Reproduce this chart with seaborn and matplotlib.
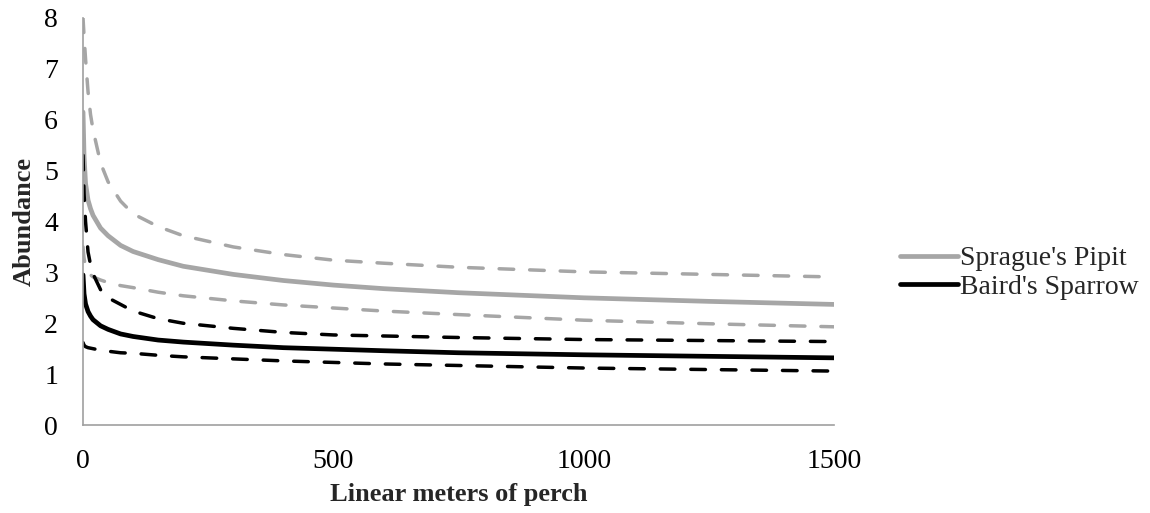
import matplotlib
matplotlib.use("Agg")
import matplotlib.pyplot as plt
import seaborn as sns
import pandas as pd

# Data
meters = [0, 2, 5, 10, 15, 20, 35, 50, 75, 100, 150, 200, 300, 400, 500, 600, 750, 1000, 1250, 1500]
pipit_mean  = [6.15, 5.30, 4.75, 4.42, 4.25, 4.12, 3.87, 3.72, 3.53, 3.41, 3.25, 3.12, 2.96, 2.84, 2.75, 2.68, 2.60, 2.50, 2.43, 2.37]
pipit_upper = [8.00, 7.65, 7.20, 6.55, 6.10, 5.80, 5.15, 4.78, 4.40, 4.15, 3.90, 3.72, 3.50, 3.35, 3.24, 3.18, 3.10, 3.01, 2.96, 2.91]
pipit_lower = [3.50, 3.28, 3.12, 3.00, 2.95, 2.91, 2.85, 2.80, 2.74, 2.70, 2.61, 2.54, 2.44, 2.36, 2.30, 2.24, 2.17, 2.06, 1.99, 1.93]
sparrow_mean  = [2.95, 2.58, 2.38, 2.23, 2.14, 2.07, 1.95, 1.88, 1.79, 1.74, 1.67, 1.63, 1.57, 1.52, 1.49, 1.46, 1.42, 1.38, 1.35, 1.32]
sparrow_upper = [5.30, 4.55, 4.00, 3.40, 3.15, 2.97, 2.66, 2.50, 2.37, 2.24, 2.09, 2.00, 1.90, 1.82, 1.77, 1.75, 1.72, 1.68, 1.66, 1.64]
sparrow_lower = [1.62, 1.57, 1.54, 1.52, 1.51, 1.50, 1.47, 1.45, 1.42, 1.41, 1.37, 1.34, 1.30, 1.26, 1.23, 1.20, 1.17, 1.12, 1.09, 1.06]

x_ticks = [0, 500, 1000, 1500]
y_ticks = [0, 1, 2, 3, 4, 5, 6, 7, 8]

sns.set_theme(style="white")
plt.rcParams['font.family'] = ['Liberation Serif', 'DejaVu Serif']

fig = plt.figure(figsize=(11.5, 5.13), dpi=100)
ax = fig.add_axes([0.0722, 0.1715, 0.6533, 0.7935])

GRAY = "#A6A6A6"
BLACK = "#000000"
dash = (4.2, 4.6)

series = [
    (pipit_upper, GRAY, True, None),
    (pipit_lower, GRAY, True, None),
    (pipit_mean, GRAY, False, "Sprague's Pipit"),
    (sparrow_upper, BLACK, True, None),
    (sparrow_lower, BLACK, True, None),
    (sparrow_mean, BLACK, False, "Baird's Sparrow"),
]

for vals, col, dashed, lab in series:
    df = pd.DataFrame({"x": meters, "y": vals})
    if dashed:
        sns.lineplot(data=df, x="x", y="y", ax=ax, color=col, lw=2.5,
                     dashes=False, legend=False)
        ln = ax.lines[-1]
        ln.set_dashes(dash)
        ln.set_dash_capstyle("round")
    else:
        sns.lineplot(data=df, x="x", y="y", ax=ax, color=col, lw=3.4,
                     label=lab)
        ax.lines[-1].set_solid_capstyle("round")

ax.set_xlim(0, 1500)
ax.set_ylim(0, 8)
ax.set_xticks(x_ticks)
ax.set_yticks(y_ticks)
ax.set_xticklabels([str(t) for t in x_ticks])
ax.set_yticklabels([str(t) for t in y_ticks])
ax.tick_params(axis="both", labelsize=20, colors="#000000", direction="out",
               length=6, width=1, color="#A0A0A0")
ax.tick_params(axis="y", pad=12)
ax.tick_params(axis="x", pad=11)
for s in ["top", "right"]:
    ax.spines[s].set_visible(False)
for s in ["left", "bottom"]:
    ax.spines[s].set_color("#A0A0A0")
    ax.spines[s].set_linewidth(1.2)

ax.set_xlabel("Linear meters of perch", fontsize=19, fontweight="bold", labelpad=7)
ax.set_ylabel("Abundance", fontsize=19, fontweight="bold", labelpad=6)

leg = ax.legend(loc="center left", bbox_to_anchor=(1.054, 0.374), frameon=False,
                fontsize=20, handlelength=2.1, handletextpad=0.05,
                labelspacing=0.1)

fig.savefig("out.png", dpi=100)
